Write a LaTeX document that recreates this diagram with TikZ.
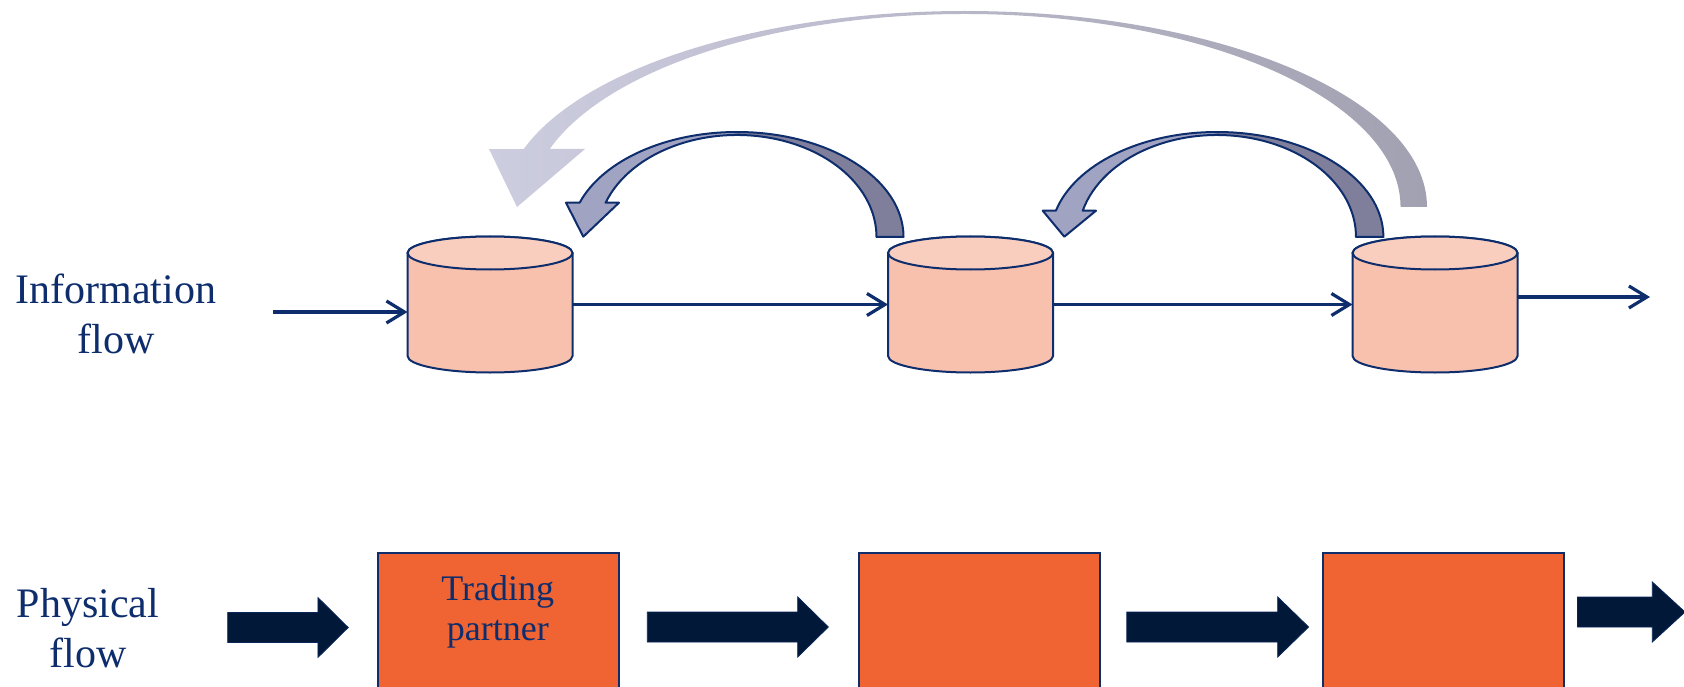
\documentclass[tikz,border=0pt]{standalone}
\usepackage{fontspec}
\setmainfont{Liberation Serif}
\usetikzlibrary{arrows.meta}
\definecolor{navy}{HTML}{0E2D6D}
\definecolor{cylbodyc}{HTML}{F8C1AD}
\definecolor{cyltopc}{HTML}{F9CEBF}
\definecolor{boxc}{HTML}{F06433}
\definecolor{barrowc}{HTML}{021838}
\definecolor{slightc}{HTML}{A1A3C3}
\definecolor{sdarkc}{HTML}{7F7F9B}
\definecolor{bigL}{HTML}{CDCDE0}
\definecolor{bigR}{HTML}{A2A1B1}
\tikzset{
  cylbody/.style={fill=cylbodyc, draw=navy, line width=2pt},
  cyltop/.style={fill=cyltopc, draw=navy, line width=2pt},
  cylnode/.style={minimum width=165pt, minimum height=135pt, inner sep=0pt, outer sep=0pt},
  flowarrow/.style={draw=navy, line width=3.2pt, -{Straight Barb[length=18pt,width=22pt]}},
  partnerbox/.style={fill=boxc, draw=navy, line width=2pt, minimum width=241pt, minimum height=150pt, anchor=north west, inner sep=0pt},
  blockarrow/.style={fill=barrowc, draw=navy!60!barrowc, line width=0.8pt},
  lbl/.style={text=navy, align=center, inner sep=0pt, font=\fontsize{42pt}{50pt}\selectfont},
  boxtext/.style={text=navy, align=center, inner sep=0pt, font=\fontsize{36pt}{40pt}\selectfont},
  curvedge/.style={draw=navy, line width=2pt, line join=round}
}
\newcommand\mycyl[3]{%
  \begin{scope}[shift={(#2,#3)}]
    \filldraw[cylbody] (-82.5,-51.5) -- (-82.5,51.5)
      arc[start angle=180,end angle=360,x radius=82.5pt,y radius=16.5pt]
      -- (82.5,-51.5)
      arc[start angle=0,end angle=180,x radius=82.5pt,y radius=16.5pt] -- cycle;
    \filldraw[cyltop] (0,-51.5) ellipse[x radius=82.5pt,y radius=16.5pt];
  \end{scope}
  \node[cylnode] (#1) at (#2,#3) {};}
\newcommand\blockarr[4]{%
  \fill[blockarrow] (#1,#4-15) -- (#2,#4-15) -- (#2,#4-30) -- (#3,#4) -- (#2,#4+30) -- (#2,#4+15) -- (#1,#4+15) -- cycle;}
\newcommand\sarrowA{(876.5,237) -- (903.5,237)
  arc[start angle=0,end angle=160.9,x radius=166.5pt,y radius=105pt]
  -- (566,202.7) -- (583.3,236.7) -- (619,202.7) -- (605.6,202.7)
  arc[start angle=160.35,end angle=0,x radius=139.5pt,y radius=102pt] -- cycle}
\newcommand\sarrowB{(1356,237) -- (1383.4,237)
  arc[start angle=0,end angle=165.5,x radius=166.4pt,y radius=105pt]
  -- (1042.7,210.7) -- (1064.3,236.7) -- (1096,210.7) -- (1082.7,210.7)
  arc[start angle=165.05,end angle=0,x radius=139pt,y radius=102pt] -- cycle}
\begin{document}
\begin{tikzpicture}[x=1pt,y=-1pt]
\useasboundingbox (0,0) rectangle (1684,687);

% big curved arrow
\shade[left color=bigL, right color=bigR] (1400.5,207) -- (1427,207)
  arc[start angle=0,end angle=162.8,x radius=462pt,y radius=196pt]
  -- (489,149) -- (517,207) -- (585,149) -- (549.7,149)
  arc[start angle=162.5,end angle=0,x radius=435.5pt,y radius=193pt] -- cycle;

% small curved arrows
\fill[sdarkc] \sarrowA;
\begin{scope}
  \clip (0,0) rectangle (737,400);
  \fill[slightc] \sarrowA;
\end{scope}
\draw[curvedge] \sarrowA;
\fill[sdarkc] \sarrowB;
\begin{scope}
  \clip (0,0) rectangle (1217,400);
  \fill[slightc] \sarrowB;
\end{scope}
\draw[curvedge] \sarrowB;

% cylinders
\mycyl{c1}{490}{304.5}
\mycyl{c2}{970.5}{304.5}
\mycyl{c3}{1435}{304.5}

% information flow arrows
\coordinate (infoin) at (273,312);
\coordinate (infoout) at (1650,297);
\draw[flowarrow] (infoin) -- (infoin -| c1.west);
\draw[flowarrow] (c1.east) -- (c2.west);
\draw[flowarrow] (c2.east) -- (c3.west);
\draw[flowarrow] (infoout -| c3.east) -- (infoout);

% labels
\node[lbl] (info) at (116,314) {Information\\flow};
\node[lbl] (phys) at (88,628.6) {Physical\\flow};

% partner boxes
\node[partnerbox] (b1) at (377.2,551.7) {};
\node[partnerbox] (b2) at (857.7,551.7) {};
\node[partnerbox] (b3) at (1322.3,551.7) {};
\node[boxtext] (tp) at (497.75,611.6) {Trading\\partner};

% block arrows
\blockarr{227.7}{317.9}{348.2}{627.5}
\blockarr{647.3}{797.7}{828.3}{627}
\blockarr{1126.8}{1277.7}{1308.6}{627}
\blockarr{1577.5}{1652.3}{1685}{612}
\end{tikzpicture}
\end{document}
